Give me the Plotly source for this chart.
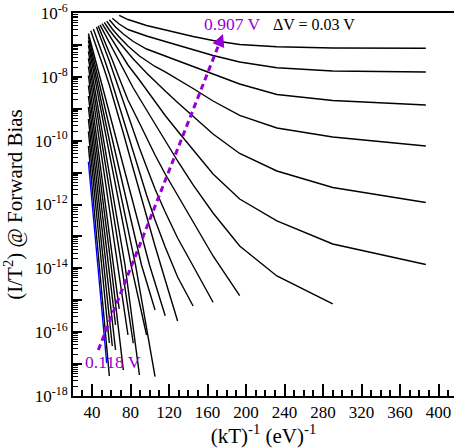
import plotly.graph_objects as go

FONT = "Liberation Serif"
PURPLE = "#9400D3"

# (kT)^-1 in (eV)^-1 for each forward-bias curve, lowest bias (0.118 V) first
CURVE_X = [
    [36.26, 46.03, 55.26],
    [36.26, 47.48, 58.02],
    [36.26, 49.87, 58.02],
    [36.26, 52.26, 61.08],
    [36.26, 54.75, 64.47],
    [36.26, 57.25, 64.47],
    [36.26, 59.74, 72.53],
    [36.26, 62.34, 68.26],
    [36.26, 67.01, 77.36],
    [36.26, 70.65, 82.89],
    [36.26, 74.29, 89.27],
    [36.26, 80.52, 96.70],
    [36.26, 85.19, 105.50],
    [36.26, 91.43, 105.50],
    [36.26, 99.74, 116.05],
    [38.68, 41.44, 44.63, 48.35, 52.75, 58.02, 64.47, 72.53, 82.89, 89.27, 96.70, 105.50, 116.05, 128.94],
    [41.44, 44.63, 48.35, 52.75, 58.02, 64.47, 72.53, 82.89, 89.27, 96.70, 105.50, 116.05, 128.94, 145.06],
    [44.63, 48.35, 52.75, 58.02, 64.47, 72.53, 82.89, 89.27, 96.70, 105.50, 116.05, 128.94, 145.06, 165.78],
    [46.42, 50.45, 55.26, 61.08, 68.26, 77.36, 89.27, 96.70, 105.50, 116.05, 128.94, 145.06, 165.78, 193.41],
    [48.35, 52.75, 58.02, 64.47, 72.53, 82.89, 96.70, 105.50, 116.05, 128.94, 145.06, 165.78, 193.41, 232.09, 290.11],
    [50.45, 55.26, 61.08, 68.26, 77.36, 89.27, 96.70, 105.50, 116.05, 128.94, 145.06, 165.78, 193.41, 232.09, 290.11, 386.82],
    [52.75, 58.02, 64.47, 72.53, 82.89, 96.70, 105.50, 116.05, 128.94, 145.06, 165.78, 193.41, 232.09, 290.11, 386.82],
    [55.26, 61.08, 68.26, 77.36, 89.27, 105.50, 116.05, 128.94, 145.06, 165.78, 193.41, 232.09, 290.11, 386.82],
    [58.02, 64.47, 72.53, 82.89, 96.70, 116.05, 128.94, 145.06, 165.78, 193.41, 232.09, 290.11, 386.82],
    [61.08, 68.26, 77.36, 96.70, 116.05, 128.94, 145.06, 165.78, 193.41, 232.09, 290.11, 386.82],
    [68.26, 77.36, 96.70, 116.05, 128.94, 145.06, 165.78, 193.41, 232.09, 290.11, 386.82],
]

# log10(I/T^2) for each curve, same order
CURVE_LOGY = [
    [-10.659, -13.895, -16.965],
    [-10.167, -13.895, -17.372],
    [-9.712, -13.895, -16.338],
    [-9.321, -13.895, -16.432],
    [-8.945, -13.895, -16.558],
    [-8.600, -13.895, -15.774],
    [-8.271, -13.895, -17.184],
    [-7.958, -13.895, -15.273],
    [-7.676, -13.895, -16.088],
    [-7.425, -13.895, -16.348],
    [-7.206, -13.895, -17.341],
    [-7.018, -13.895, -16.088],
    [-6.862, -13.895, -17.394],
    [-6.736, -13.895, -15.305],
    [-6.642, -13.895, -15.483],
    [-6.555, -6.783, -7.034, -7.378, -7.770, -8.256, -8.914, -9.759, -10.887, -11.576, -12.360, -13.300, -14.365, -15.649],
    [-6.504, -6.752, -7.065, -7.441, -7.911, -8.538, -9.352, -10.386, -11.013, -11.702, -12.485, -13.331, -14.271, -15.179],
    [-6.439, -6.721, -7.065, -7.504, -8.068, -8.788, -9.697, -10.229, -10.824, -11.514, -12.234, -13.049, -13.926, -15.063],
    [-6.404, -6.689, -7.034, -7.472, -8.036, -8.726, -9.446, -9.916, -10.449, -11.044, -11.702, -12.548, -13.613, -14.856],
    [-6.370, -6.627, -6.940, -7.316, -7.786, -8.350, -9.039, -9.477, -10.010, -10.637, -11.388, -12.266, -13.300, -14.239, -15.117],
    [-6.332, -6.564, -6.846, -7.190, -7.629, -8.099, -8.412, -8.788, -9.211, -9.697, -10.292, -11.044, -11.827, -12.516, -13.237, -13.879],
    [-6.294, -6.533, -6.783, -7.081, -7.441, -7.880, -8.146, -8.444, -8.804, -9.227, -9.791, -10.402, -10.950, -11.467, -11.937],
    [-6.254, -6.501, -6.752, -7.034, -7.347, -7.676, -7.848, -8.068, -8.365, -8.757, -9.211, -9.603, -9.885, -10.167],
    [-6.213, -6.439, -6.658, -6.893, -7.128, -7.347, -7.488, -7.660, -7.911, -8.224, -8.553, -8.741, -8.882],
    [-6.166, -6.345, -6.517, -6.721, -6.893, -7.009, -7.159, -7.331, -7.535, -7.717, -7.817, -7.848],
    [-6.072, -6.204, -6.392, -6.533, -6.627, -6.736, -6.862, -6.987, -7.056, -7.096, -7.106],
]

# dashed arrow from lowest to highest bias: tail, head base, tip
ARROW_X = [46.55, 171.5, 176.1]
ARROW_LOGY = [-16.558, -7.009, -6.658]

X_TICKS = [40, 80, 120, 160, 200, 240, 280, 320, 360, 400]
Y_EXPONENTS = [-18, -17, -16, -15, -14, -13, -12, -11, -10, -9, -8, -7, -6]

fig = go.Figure()

for i in range(len(CURVE_X) - 1, -1, -1):
    color = "#0000FF" if i == 0 else "black"
    fig.add_trace(go.Scatter(
        x=CURVE_X[i],
        y=[10 ** v for v in CURVE_LOGY[i]],
        mode="lines",
        line=dict(color=color, width=1.4),
        hoverinfo="skip",
    ))

fig.add_trace(go.Scatter(
    x=ARROW_X[:2],
    y=[10 ** v for v in ARROW_LOGY[:2]],
    mode="lines",
    line=dict(color=PURPLE, width=3, dash="6px,4px"),
    hoverinfo="skip",
))

fig.add_annotation(x=ARROW_X[2], y=ARROW_LOGY[2], ax=ARROW_X[1], ay=ARROW_LOGY[1],
                   xref="x", yref="y", axref="x", ayref="y", text="", showarrow=True,
                   arrowhead=2, arrowsize=1, arrowwidth=2.5, arrowcolor=PURPLE)

y_tickvals = [10.0 ** e for e in Y_EXPONENTS]
y_ticktext = [("10<sup>%d</sup>" % e) if e % 2 == 0 else "" for e in Y_EXPONENTS]
y_minor = [k * 10.0 ** e for e in Y_EXPONENTS[:-1] for k in range(2, 10)]

fig.update_layout(
    width=454, height=448,
    margin=dict(l=73, r=0, t=13, b=52),
    paper_bgcolor="white", plot_bgcolor="white",
    showlegend=False,
    font=dict(family=FONT, size=17, color="black"),
)

fig.update_xaxes(
    range=[20.26, 416.1],
    showline=True, linecolor="black", linewidth=2, mirror=True,
    ticks="inside", ticklen=12, tickwidth=1.5, tickcolor="black",
    tickvals=X_TICKS, ticktext=[str(v) for v in X_TICKS],
    tickfont=dict(family=FONT, size=17, color="black"),
    minor=dict(ticks="inside", ticklen=6, tickwidth=1.5, tickcolor="black", dtick=10, tick0=0),
    showgrid=False, zeroline=False, automargin=False,
    title=dict(text="(kT)<sup>-1</sup> (eV)<sup>-1</sup>",
               font=dict(family=FONT, size=21, color="black"), standoff=6),
)

fig.update_yaxes(
    type="log", range=[-18, -6],
    showline=True, linecolor="black", linewidth=2, mirror=False,
    ticks="inside", ticklen=9, tickwidth=1.5, tickcolor="black",
    tickvals=y_tickvals, ticktext=y_ticktext,
    tickfont=dict(family=FONT, size=17, color="black"),
    minor=dict(ticks="inside", ticklen=4.5, tickwidth=1.2, tickcolor="black",
               tickmode="array", tickvals=y_minor),
    showgrid=False, zeroline=False, automargin=False,
    title=dict(text="(I/T<sup>2</sup>) @ Forward Bias",
               font=dict(family=FONT, size=21, color="black"), standoff=8),
)

fig.add_annotation(x=185.5, y=-6.345, xref="x", yref="y", text="0.907 V", showarrow=False,
                   font=dict(family=FONT, size=17.5, color=PURPLE), xanchor="center", yanchor="middle")
fig.add_annotation(x=270.6, y=-6.345, xref="x", yref="y", text="\u0394V = 0.03 V", showarrow=False,
                   font=dict(family=FONT, size=16, color="black"), xanchor="center", yanchor="middle")
fig.add_annotation(x=62.1, y=-16.924, xref="x", yref="y", text="0.118 V", showarrow=False,
                   font=dict(family=FONT, size=17.5, color=PURPLE), xanchor="center", yanchor="middle")

fig.write_html("out.html")
